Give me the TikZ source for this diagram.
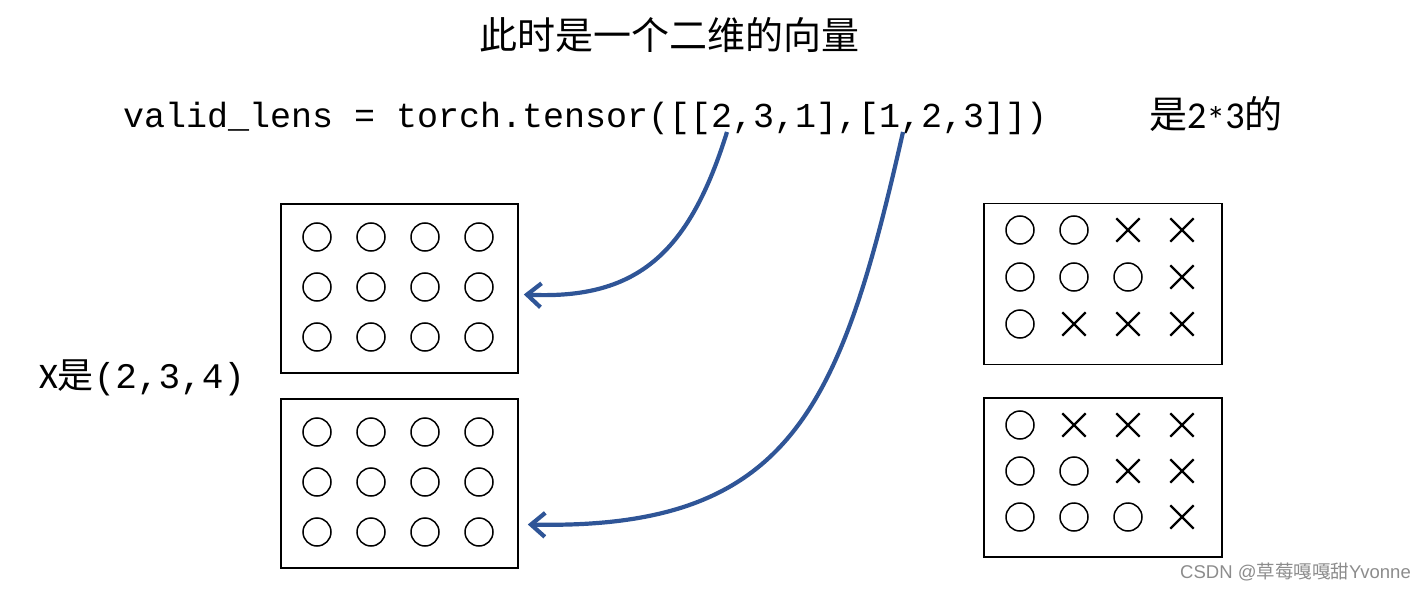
\documentclass[tikz,border=0pt]{standalone}
\usepackage{fontspec}
\setmainfont{Carlito}
\setmonofont{Liberation Mono}
\newfontfamily\cjk{Noto Sans CJK SC}
\usetikzlibrary{arrows.meta,calc,shapes.misc}
\definecolor{arrowblue}{HTML}{2F5597}
\definecolor{markgray}{HTML}{8C8C8C}

\tikzset{
  grid box/.style={draw,line width=1.6pt,inner sep=0pt},
  ring/.style={draw,circle,line width=1.5pt,minimum size=28pt,inner sep=0pt},
  cross/.style={draw,cross out,line width=2.3pt,minimum size=21pt,inner sep=0pt},
  pick/.style={arrowblue,line width=4.2pt,-{Straight Barb[length=14pt,width=24pt]}},
}

\begin{document}
\begin{tikzpicture}[x=1pt,y=-1pt]
  \useasboundingbox (0,0) rectangle (1425,591);
  % texts
  \node[font=\cjk\fontsize{38}{44}\selectfont] (title) at (669,35) {此时是一个二维的向量};
  \node[anchor=base west,inner sep=0pt,font=\ttfamily\fontsize{35}{40}\selectfont] (code) at (123,128)
    {valid\_lens = torch.tensor([[2,3,1],[1,2,3]])};
  \node[anchor=west,inner sep=0pt,font=\fontsize{38}{44}\selectfont] (shape) at (1149,115)
    {{\cjk 是}2\raisebox{-0.12em}{*}3{\cjk 的}};
  \node[anchor=west,inner sep=0pt,font=\fontsize{36}{42}\selectfont] (xdim) at (39,378)
    {X{\cjk 是}\ttfamily(2,3,4)};
  % X: two 3x4 blocks
  \node[grid box,minimum width=237pt,minimum height=169pt] (boxA) at (399.5,288.5) {};
  \node[grid box,minimum width=237pt,minimum height=169pt] (boxB) at (399.5,483.5) {};
  \foreach \r in {0,1,2}
    \foreach \c in {0,1,2,3} {
      \node[ring] at (317+54*\c,237+50*\r) {};
      \node[ring] at (317+54*\c,432+50*\r) {};
    }
  % masks
  \node[grid box,minimum width=238pt,minimum height=161pt] (boxC) at (1103,284) {};
  \node[grid box,minimum width=238pt,minimum height=159pt] (boxD) at (1103,477.5) {};
  \foreach \r/\n in {0/2,1/3,2/1}
    \foreach \c in {1,2,3,4} {
      \ifnum\c>\n
        \node[cross] at (1020+54*\c-54,230+47*\r) {};
      \else
        \node[ring] at (1020+54*\c-54,230+47*\r) {};
      \fi
    }
  \foreach \r/\n in {0/1,1/2,2/3}
    \foreach \c in {1,2,3,4} {
      \ifnum\c>\n
        \node[cross] at (1020+54*\c-54,425+46*\r) {};
      \else
        \node[ring] at (1020+54*\c-54,425+46*\r) {};
      \fi
    }
  % arrows
  \coordinate (first) at (727,132);
  \coordinate (second) at (903,132);
  \draw[pick] (first) .. controls (690,250) and (640,300) .. ($(boxA.east)+(5,6)$);
  \draw[pick] (second) .. controls (840,410) and (790,530) .. ($(boxB.east)+(9,41)$);
  \node[anchor=east,inner sep=0pt,text=markgray,font=\fontsize{18.5}{20}\selectfont] (mark) at (1411,572)
    {\fontspec{Liberation Sans}CSDN @{\cjk 草莓嘎嘎甜}Yvonne};
\end{tikzpicture}
\end{document}
